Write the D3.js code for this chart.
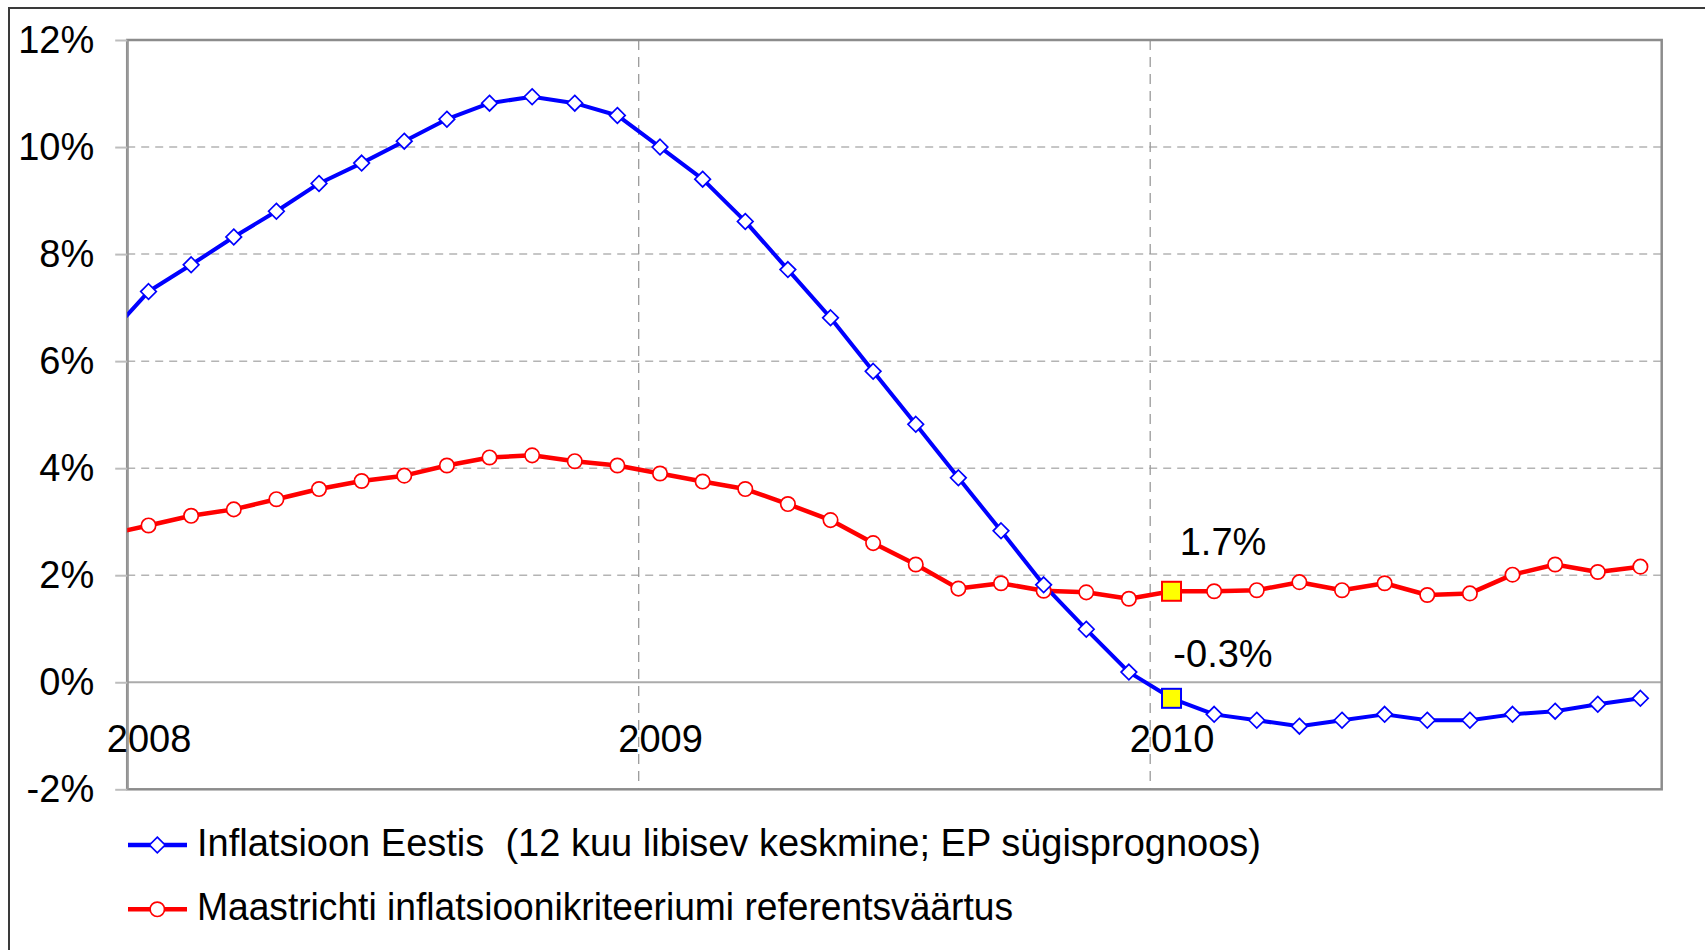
<!DOCTYPE html>
<html>
<head>
<meta charset="utf-8">
<script src="https://cdn.jsdelivr.net/npm/d3@7"></script>
<style>
  html, body { margin: 0; padding: 0; background: #fff; }
  svg { display: block; font-family: "Liberation Sans", Arial, sans-serif; }
  text { white-space: pre; }
</style>
</head>
<body>
<svg id="chart"></svg>
<script>
// monthly values, Dec 2007 .. Dec 2010 (Dec 2007 is only the clipped stub at the left edge)
const firstMonth = new Date(2007, 11, 1);
const years = [2008, 2009, 2010];
const yTicks = [-2, 0, 2, 4, 6, 8, 10, 12];

const inflationEE = [
  6.42,
  7.30, 7.80, 8.32, 8.80, 9.32, 9.70, 10.11, 10.52, 10.82, 10.94, 10.82, 10.59,
  10.00, 9.40, 8.61, 7.71, 6.81, 5.81, 4.82, 3.82, 2.83, 1.82, 0.99, 0.19,
  -0.30, -0.60, -0.71, -0.82, -0.71, -0.60, -0.71, -0.71, -0.60, -0.54, -0.41, -0.30
];
const maastricht = [
  2.75,
  2.93, 3.11, 3.23, 3.42, 3.61, 3.76, 3.86, 4.05, 4.20, 4.24, 4.13, 4.05,
  3.90, 3.75, 3.61, 3.33, 3.03, 2.60, 2.20, 1.75, 1.85, 1.71, 1.68, 1.56,
  1.70, 1.70, 1.72, 1.87, 1.72, 1.85, 1.63, 1.66, 2.01, 2.20, 2.06, 2.16
];
const highlightMonth = new Date(2010, 0, 1);

const seriesNames = [
  "Inflatsioon Eestis  (12 kuu libisev keskmine; EP sügisprognoos)",
  "Maastrichti inflatsioonikriteeriumi referentsväärtus"
];

const W = 1705, H = 950;
const plot = { left: 127.2, right: 1661.7, top: 40, bottom: 789.3 };
const blue = "#0000ff", red = "#ff0000";

const months = d3.timeMonth.range(firstMonth, new Date(2011, 0, 1));
const start = new Date(2008, 0, 1);
// month slot index, centred in the month
const mIdx = d => d3.timeMonth.count(start, d) + 0.5;

const x = d3.scaleLinear().domain([0, 36]).range([plot.left, plot.right]);
const y = d3.scaleLinear().domain([-2, 12]).range([plot.bottom, plot.top]);

// plain hyphen for negatives, like the original
const fmt = d3.formatLocale({ decimal: ".", thousands: ",", grouping: [3], currency: ["", ""], minus: "-" }).format(".1f");

const svg = d3.select("#chart").attr("width", W).attr("height", H);

// outer chart frame (only top/left visible)
svg.append("rect")
  .attr("x", 9).attr("y", 8).attr("width", 1800).attr("height", 1000)
  .attr("fill", "#fff").attr("stroke", "#3a3a3a").attr("stroke-width", 2);

svg.append("defs").append("clipPath").attr("id", "plotClip")
  .append("rect")
  .attr("x", plot.left).attr("y", plot.top)
  .attr("width", plot.right - plot.left).attr("height", plot.bottom - plot.top);

// horizontal gridlines
svg.append("g")
  .selectAll("line")
  .data(yTicks.filter(t => t > -2 && t < 12 && t !== 0))
  .join("line")
  .attr("x1", plot.left).attr("x2", plot.right)
  .attr("y1", d => y(d)).attr("y2", d => y(d))
  .attr("stroke", "#b4b4b4").attr("stroke-width", 1.5)
  .attr("stroke-dasharray", "8,6");

// vertical year gridlines
svg.append("g")
  .selectAll("line")
  .data(years.slice(1))
  .join("line")
  .attr("x1", d => x(d3.timeMonth.count(start, new Date(d, 0, 1))))
  .attr("x2", d => x(d3.timeMonth.count(start, new Date(d, 0, 1))))
  .attr("y1", plot.top).attr("y2", plot.bottom)
  .attr("stroke", "#9a9a9a").attr("stroke-width", 1.3)
  .attr("stroke-dasharray", "10,7");

// zero line
svg.append("line")
  .attr("x1", plot.left).attr("x2", plot.right)
  .attr("y1", y(0)).attr("y2", y(0))
  .attr("stroke", "#ababab").attr("stroke-width", 2);

// plot border
svg.append("rect")
  .attr("x", plot.left).attr("y", plot.top)
  .attr("width", plot.right - plot.left).attr("height", plot.bottom - plot.top)
  .attr("fill", "none").attr("stroke", "#8c8c8c").attr("stroke-width", 2.5);

// y axis
const yAxis = svg.append("g")
  .attr("transform", `translate(${plot.left},0)`)
  .call(d3.axisLeft(y).tickValues(yTicks).tickFormat(d => d + "%")
    .tickSizeInner(12).tickSizeOuter(0).tickPadding(21));
yAxis.select(".domain").attr("stroke", "#999").attr("stroke-width", 2);
yAxis.selectAll(".tick line").attr("stroke", "#bdbdbd").attr("stroke-width", 2);
yAxis.selectAll(".tick text")
  .attr("fill", "#000").style("font-size", "38px").style("font-family", null);

// x axis labels (hang under the zero line)
const xAxis = svg.append("g")
  .attr("transform", `translate(0,${y(0)})`)
  .call(d3.axisBottom(x)
    .tickValues(years.map(yr => mIdx(new Date(yr, 0, 1))))
    .tickFormat((d, i) => years[i])
    .tickSize(0).tickPadding(43));
xAxis.select(".domain").remove();
xAxis.selectAll(".tick text")
  .attr("fill", "#000").style("font-size", "38px").style("font-family", null);

const line = d3.line()
  .x((d, i) => x(mIdx(months[i])))
  .y(d => y(d));

const lines = svg.append("g").attr("clip-path", "url(#plotClip)");
lines.append("path").datum(maastricht)
  .attr("d", line).attr("fill", "none")
  .attr("stroke", red).attr("stroke-width", 4.5).attr("stroke-linejoin", "round");
lines.append("path").datum(inflationEE)
  .attr("d", line).attr("fill", "none")
  .attr("stroke", blue).attr("stroke-width", 4).attr("stroke-linejoin", "round");

const diamond = s => `M0,${-s} L${s},0 L0,${s} L${-s},0 Z`;
const isHighlight = i => +months[i] === +highlightMonth;
const pts = arr => arr.map((v, i) => ({ v, i })).filter(d => d.i > 0 && !isHighlight(d.i));

// red circle markers
svg.append("g").selectAll("circle")
  .data(pts(maastricht))
  .join("circle")
  .attr("cx", d => x(mIdx(months[d.i]))).attr("cy", d => y(d.v))
  .attr("r", 7.2).attr("fill", "#fff")
  .attr("stroke", red).attr("stroke-width", 1.7);

// blue diamond markers
svg.append("g").selectAll("path")
  .data(pts(inflationEE))
  .join("path")
  .attr("transform", d => `translate(${x(mIdx(months[d.i]))},${y(d.v)})`)
  .attr("d", diamond(7.8)).attr("fill", "#fff")
  .attr("stroke", blue).attr("stroke-width", 1.7);

// highlighted January 2010 points + labels
const hi = months.findIndex(m => +m === +highlightMonth);
[[maastricht, red, 36], [inflationEE, blue, 31]].forEach(([arr, col, lift]) => {
  const cx = x(mIdx(months[hi])), cy = y(arr[hi]);
  svg.append("rect")
    .attr("x", cx - 9.5).attr("y", cy - 9.5).attr("width", 19).attr("height", 19)
    .attr("fill", "#ffff00").attr("stroke", col).attr("stroke-width", 2);
  svg.append("text")
    .attr("x", cx + 51.5).attr("y", cy - lift)
    .attr("text-anchor", "middle")
    .style("font-size", "38px")
    .text(fmt(arr[hi]) + "%");
});

// legend
const legend = svg.append("g");
[[blue, 845, 856, 1064], [red, 909.3, 920, 816]].forEach(([col, ly, base, len], i) => {
  legend.append("line")
    .attr("x1", 128).attr("x2", 187).attr("y1", ly).attr("y2", ly)
    .attr("stroke", col).attr("stroke-width", 4.5);
  if (i === 0) {
    legend.append("path")
      .attr("transform", `translate(157.3,${ly})`)
      .attr("d", diamond(7.8)).attr("fill", "#fff")
      .attr("stroke", col).attr("stroke-width", 1.7);
  } else {
    legend.append("circle")
      .attr("cx", 157.3).attr("cy", ly).attr("r", 7.2)
      .attr("fill", "#fff").attr("stroke", col).attr("stroke-width", 1.7);
  }
  legend.append("text")
    .attr("x", 197).attr("y", base)
    .attr("textLength", len).attr("lengthAdjust", "spacingAndGlyphs")
    .style("font-size", "38px")
    .text(seriesNames[i]);
});
</script>
</body>
</html>
